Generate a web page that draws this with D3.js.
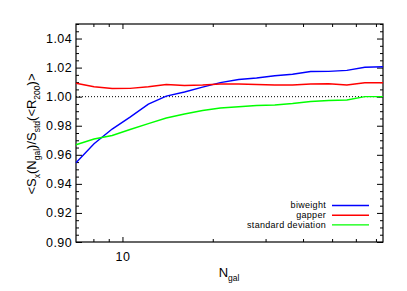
<!DOCTYPE html>
<html>
<head>
<meta charset="utf-8">
<script src="https://cdn.jsdelivr.net/npm/d3@7"></script>
<style>
body { margin: 0; background: #fff; }
svg { font-family: "Liberation Sans", Arial, sans-serif; }
.axis path { display: none; }
.axis line { stroke: #000; }
.axis text { fill: #000; }
</style>
</head>
<body>
<svg width="407" height="291"></svg>
<script>
// N_gal bins (log spaced)
var ngal = [7, 8.04, 9.24, 10.6, 12.2, 14.0, 16.1, 18.5, 21.2, 24.4, 28.0, 32.2, 36.9, 42.4, 48.7, 56.0, 64.3, 73.9];

var biweight = [0.9546, 0.9676, 0.9777, 0.9859, 0.9949, 1.0004, 1.0032, 1.0066, 1.0097, 1.0118,
                1.0128, 1.0144, 1.0154, 1.0173, 1.0174, 1.0181, 1.0202, 1.0206];
var gapper   = [1.0092, 1.0068, 1.0056, 1.0057, 1.0068, 1.0084, 1.0077, 1.0080, 1.0087, 1.0087,
                1.0084, 1.0080, 1.0080, 1.0087, 1.0089, 1.0080, 1.0096, 1.0096];
var stdDev   = [0.9669, 0.9709, 0.9733, 0.9774, 0.9815, 0.9853, 0.9881, 0.9905, 0.9922, 0.9931,
                0.9939, 0.9943, 0.9953, 0.9967, 0.9974, 0.9977, 1.0000, 1.0000];

var seriesNames = ["biweight", "gapper", "standard deviation"];
var seriesColors = ["#0000ff", "#ff0000", "#00ff00"];

var yMajor = [0.90, 0.92, 0.94, 0.96, 0.98, 1.00, 1.02, 1.04];
var xMajor = [10];
var xMinor = [8, 9, 20, 30, 40, 50, 60, 70];

var svg = d3.select('svg');
var plot = {l: 76, r: 383, t: 24, b: 242};

var xScale = d3.scaleLog()
    .domain([7, 73.9])
    .range([plot.l, plot.r]);

var yScale = d3.scaleLinear()
    .domain([0.90, 1.05])
    .range([plot.b, plot.t]);

var yMinor = d3.range(0.905, 1.05, 0.005).filter(function(v) {
  return Math.abs(Math.round(v * 50) - v * 50) > 0.01;
});

// frame
svg.append('rect')
  .attr('x', plot.l).attr('y', plot.t)
  .attr('width', plot.r - plot.l).attr('height', plot.b - plot.t)
  .attr('fill', 'none').attr('stroke', '#000').attr('stroke-width', 1.2);

// y axes (left labelled, right mirrored)
svg.append('g').attr('class', 'axis')
  .attr('transform', 'translate(' + plot.l + ',0)')
  .call(d3.axisLeft(yScale).tickValues(yMajor).tickSize(-6).tickPadding(4).tickFormat(d3.format('.2f')))
  .selectAll('text').attr('font-size', 12.5).attr('letter-spacing', 0.4);
svg.append('g').attr('class', 'axis')
  .attr('transform', 'translate(' + plot.l + ',0)')
  .call(d3.axisLeft(yScale).tickValues(yMinor).tickSize(-3).tickFormat(''));
svg.append('g').attr('class', 'axis')
  .attr('transform', 'translate(' + plot.r + ',0)')
  .call(d3.axisRight(yScale).tickValues(yMajor).tickSize(-6).tickFormat(''));
svg.append('g').attr('class', 'axis')
  .attr('transform', 'translate(' + plot.r + ',0)')
  .call(d3.axisRight(yScale).tickValues(yMinor).tickSize(-3).tickFormat(''));

// x axes
svg.append('g').attr('class', 'axis')
  .attr('transform', 'translate(0,' + plot.b + ')')
  .call(d3.axisBottom(xScale).tickValues(xMajor).tickSize(-5).tickPadding(10).tickFormat(d3.format('d')))
  .selectAll('text').attr('font-size', 12.5).attr('letter-spacing', 0.4);
svg.append('g').attr('class', 'axis')
  .attr('transform', 'translate(0,' + plot.b + ')')
  .call(d3.axisBottom(xScale).tickValues(xMinor).tickSize(-3).tickFormat(''));
svg.append('g').attr('class', 'axis')
  .attr('transform', 'translate(0,' + plot.t + ')')
  .call(d3.axisTop(xScale).tickValues(xMajor).tickSize(-5).tickFormat(''));
svg.append('g').attr('class', 'axis')
  .attr('transform', 'translate(0,' + plot.t + ')')
  .call(d3.axisTop(xScale).tickValues(xMinor).tickSize(-3).tickFormat(''));

// reference line at 1
svg.append('line')
  .attr('x1', plot.l).attr('x2', plot.r)
  .attr('y1', yScale(1)).attr('y2', yScale(1))
  .attr('stroke', '#000').attr('stroke-width', 1)
  .attr('stroke-dasharray', '1,2');

// curves
var line = d3.line()
  .x(function(d, i) { return xScale(ngal[i]); })
  .y(function(d) { return yScale(d); });

[biweight, gapper, stdDev].forEach(function(s, k) {
  svg.append('path')
    .datum(s)
    .attr('fill', 'none')
    .attr('stroke', seriesColors[k])
    .attr('stroke-width', 1.4)
    .attr('d', line);
});

// legend
var legend = svg.append('g').attr('font-size', 9);
seriesNames.forEach(function(name, k) {
  var ly = 205.5 + k * 9.7;
  legend.append('text')
    .attr('x', 326).attr('y', ly).attr('dy', '0.32em')
    .attr('text-anchor', 'end')
    .attr('letter-spacing', 0.3)
    .text(name);
  legend.append('line')
    .attr('x1', 332).attr('x2', 369)
    .attr('y1', ly).attr('y2', ly)
    .attr('stroke', seriesColors[k]).attr('stroke-width', 1.4);
});

// axis labels
var xl = svg.append('text')
  .attr('x', 229).attr('y', 277)
  .attr('text-anchor', 'middle')
  .attr('font-size', 13);
xl.append('tspan').text('N');
xl.append('tspan').attr('font-size', 8.5).attr('dy', 4).text('gal');

var yl = svg.append('text')
  .attr('transform', 'translate(36,134)rotate(-90)')
  .attr('text-anchor', 'middle')
  .attr('font-size', 13);
yl.append('tspan').text('<S');
yl.append('tspan').attr('font-size', 8.5).attr('dy', 3.5).text('x');
yl.append('tspan').attr('dy', -3.5).text('(N');
yl.append('tspan').attr('font-size', 8.5).attr('dy', 3.5).text('gal');
yl.append('tspan').attr('dy', -3.5).text(')/S');
yl.append('tspan').attr('font-size', 8.5).attr('dy', 3.5).text('std');
yl.append('tspan').attr('dy', -3.5).text('(<R');
yl.append('tspan').attr('font-size', 8.5).attr('dy', 3.5).text('200');
yl.append('tspan').attr('dy', -3.5).text(')>');
</script>
</body>
</html>
